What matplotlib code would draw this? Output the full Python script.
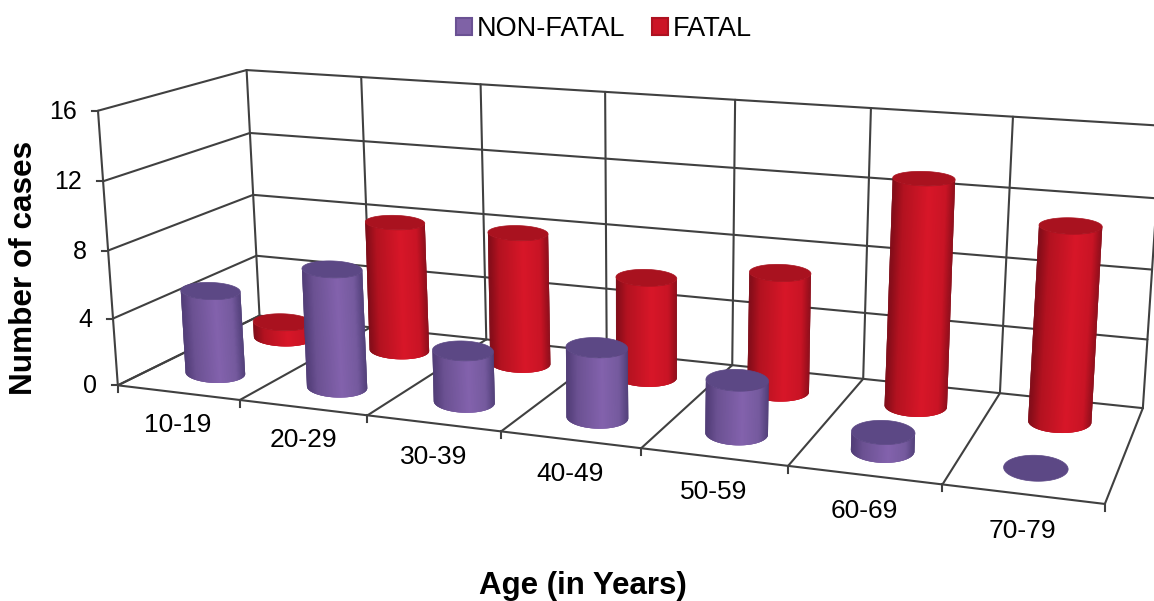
import numpy as np
import matplotlib
matplotlib.use('Agg')
import matplotlib.pyplot as plt
from matplotlib.collections import PolyCollection
from matplotlib.patches import Patch, Polygon

ages = ['10-19', '20-29', '30-39', '40-49', '50-59', '60-69', '70-79']
non_fatal = [5, 7, 3, 4, 3, 1, 0]
fatal = [1, 8, 8, 6, 7, 13, 11]
y_ticks = [0, 4, 8, 12, 16]

plt.rcParams['font.family'] = ['Liberation Sans', 'DejaVu Sans']

# (category edge, depth, value) -> pixel, used to fit the chart's perspective
calib_3d = np.array([
    [0, 0, 0], [0, 0, 16], [0, 1, 0], [0, 1, 16], [7, 0, 0], [7, 1, 0], [7, 1, 16],
    [1, 1, 16], [5, 1, 16], [6, 1, 16], [1, 0, 0], [2, 0, 0], [3, 0, 0], [4, 0, 0],
    [5, 0, 0], [6, 0, 0], [5, 1, 0], [6, 1, 0], [0, 0, 8], [0, 1, 8],
], dtype=float)
calib_px = np.array([
    [119, 384], [98, 111], [260, 318], [246, 70], [1105, 504], [1143, 407], [1160, 125],
    [362, 77], [872, 109], [1014, 117], [240, 399], [367, 415], [500, 432], [641, 449],
    [788, 467], [943, 485], [863, 378], [1000, 393], [108, 250], [252, 194],
], dtype=float)

line_color = '#404040'


def fit_camera(pts, px):
    rows = []
    for (x, y, z), (u, v) in zip(pts, px):
        rows.append([x, y, z, 1, 0, 0, 0, 0, -u * x, -u * y, -u * z, -u])
        rows.append([0, 0, 0, 0, x, y, z, 1, -v * x, -v * y, -v * z, -v])
    _, _, vt = np.linalg.svd(np.array(rows))
    return vt[-1].reshape(3, 4)


camera = fit_camera(calib_3d, calib_px)


def project(x, y, z):
    p = camera @ np.array([x, y, z, 1.0])
    return p[:2] / p[2]


def line3d(ax, a, b, lw=1.5, zorder=1):
    pa, pb = project(*a), project(*b)
    ax.plot([pa[0], pb[0]], [pa[1], pb[1]], color=line_color, lw=lw, zorder=zorder,
            solid_capstyle='round')


def shade(stops, u):
    pos = [-1.0, -0.65, 0.15, 0.7, 1.0]
    stops = np.array([matplotlib.colors.to_rgb(c) for c in stops])
    return [np.interp(u, pos, stops[:, i]) for i in range(3)]


def cylinder(ax, cat, depth, value, stops, top_color, zorder):
    cx = cat + 0.5
    ry = 0.13
    base = project(cx, depth, 0)
    top = project(cx, depth, value)
    d0 = project(cat, depth, 0)
    d1 = project(cat + 1, depth, 0)
    a = 22 + 0.065 * np.linalg.norm(d1 - d0)
    slope = 0.25 * (d1[1] - d0[1]) / (d1[0] - d0[0])

    def half_h(z):
        return abs(project(cx, depth + ry, z)[1] - project(cx, depth - ry, z)[1]) / 2

    b_base, b_top = half_h(0), half_h(value)

    def rim(c, b, tt):
        return np.column_stack([c[0] + a * np.cos(tt),
                                c[1] + a * slope * np.cos(tt) + b * np.sin(tt)])

    if value > 0:
        # strips run left to right and overlap the next one so no seams show
        t = np.linspace(np.pi, 0, 121)
        low, up = rim(base, b_base, t), rim(top, b_top, t)
        quads, colors = [], []
        for i in range(len(t) - 1):
            j = min(i + 3, len(t) - 1)
            quads.append([up[i], up[j], low[j], low[i]])
            colors.append(shade(stops, np.cos(t[i])))
        ax.add_collection(PolyCollection(quads, facecolors=colors, edgecolors='none',
                                         zorder=zorder))
    full = np.linspace(0, 2 * np.pi, 90)
    ax.add_patch(Polygon(rim(top, b_top, full), closed=True, facecolor=top_color,
                         edgecolor=top_color, lw=0.5, zorder=zorder + 0.001))


fig = plt.figure(figsize=(11.54, 6.01), dpi=100)
ax = fig.add_axes([0, 0, 1, 1])
ax.set_xlim(0, 1154)
ax.set_ylim(601, 0)
ax.axis('off')

n = len(ages)
# walls
for v in y_ticks:
    line3d(ax, (0, 0, v), (0, 1, v))
    line3d(ax, (0, 1, v), (n, 1, v))
    p = project(0, 0, v)
    ax.plot([p[0] - 6, p[0]], [p[1], p[1]], color=line_color, lw=1.5)
    ax.text(p[0] - 21, p[1] + 1, str(v), ha='right', va='center', fontsize=18, color='#000000')
for i in range(n + 1):
    line3d(ax, (i, 1, 0), (i, 1, 16))
    line3d(ax, (i, 0, 0), (i, 1, 0))
    p = project(i, 0, 0)
    ax.plot([p[0], p[0]], [p[1], p[1] + 7], color=line_color, lw=1.5)
line3d(ax, (0, 0, 0), (0, 0, 16))
line3d(ax, (0, 0, 0), (n, 0, 0))

for i, label in enumerate(ages):
    p = project(i + 0.5, 0, 0)
    ax.text(p[0], p[1] + 32 + i * 0.85, label, ha='center', va='center', fontsize=19,
            color='#000000')

red_stops = ['#7f0c18', '#b31220', '#d81628', '#c91425', '#8e0e1b']
red_top = '#a9121f'
purple_stops = ['#4f3b75', '#6b5192', '#8362ad', '#755a9e', '#52407a']
purple_top = '#5c4885'

for i in range(n):
    cylinder(ax, i, 0.75, fatal[i], red_stops, red_top, 3 + i * 0.01)
for i in range(n):
    cylinder(ax, i, 0.25, non_fatal[i], purple_stops, purple_top, 4 + i * 0.01)

ax.text(24, 268, 'Number of cases', rotation=90, ha='center', va='center',
        fontsize=22.7, fontweight='bold', color='#000000')
ax.text(583, 586, 'Age (in Years)', ha='center', va='center',
        fontsize=22.5, fontweight='bold', color='#000000')

handles = [Patch(facecolor='#7f62a6', edgecolor='#6a5193', lw=1.5, label='NON-FATAL'),
           Patch(facecolor='#cc1426', edgecolor='#ad1220', lw=1.5, label='FATAL')]
fig.legend(handles=handles, loc='center', bbox_to_anchor=(604 / 1154, 1 - 29 / 601), ncol=2,
           frameon=False, fontsize=19.5, handlelength=0.58, handleheight=0.58,
           handletextpad=0.19, columnspacing=1.0, labelcolor='#000000')

fig.savefig('out.png', dpi=100)
